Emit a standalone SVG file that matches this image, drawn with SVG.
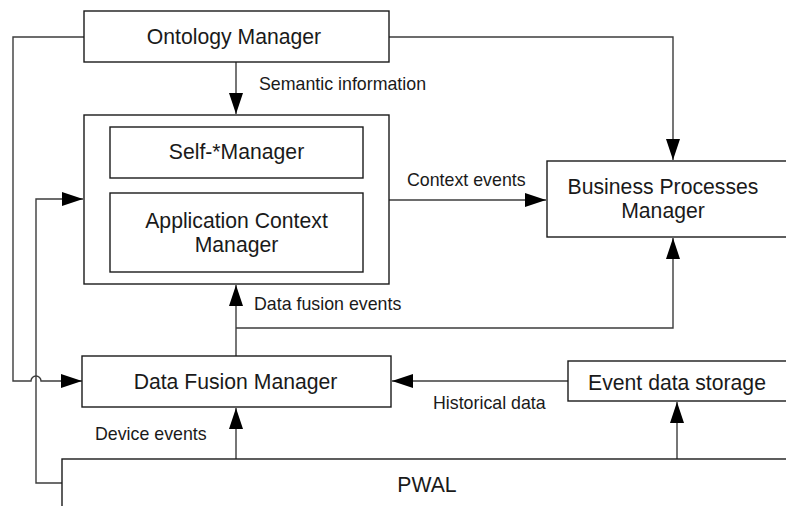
<svg xmlns="http://www.w3.org/2000/svg" width="786" height="506" viewBox="0 0 786 506">
  <style>
    .box { fill: #ffffff; stroke: #1a1a1a; stroke-width: 1.4; }
    .conn { fill: none; stroke: #3c3c3c; stroke-width: 1.4; }
    .name { font-family: "Liberation Sans", Arial, sans-serif; font-size: 21.2px; fill: #1a1a1a; text-anchor: middle; }
    .lbl { font-family: "Liberation Sans", Arial, sans-serif; font-size: 17.8px; fill: #1a1a1a; }
  </style>
  <defs>
    <marker id="arrow" markerUnits="userSpaceOnUse" markerWidth="21" markerHeight="14" refX="21" refY="7" orient="auto">
      <path d="M0,0 L21,7 L0,14 z" fill="#000"/>
    </marker>
  </defs>
  <rect width="786" height="506" fill="#ffffff"/>

  <!-- connectors -->
  <g id="connectors">
    <path class="conn" d="M236,62 V114" marker-end="url(#arrow)"/>
    <path class="conn" d="M389,37 H673 V160" marker-end="url(#arrow)"/>
    <path class="conn" d="M84,37 H13 V381 H31 A5,5 0 0 1 41,381 H82" marker-end="url(#arrow)"/>
    <path class="conn" d="M62,483 H36 V199 H83" marker-end="url(#arrow)"/>
    <path class="conn" d="M389,200 H546" marker-end="url(#arrow)"/>
    <path class="conn" d="M236,356 V285" marker-end="url(#arrow)"/>
    <path class="conn" d="M236,328 H673 V238" marker-end="url(#arrow)"/>
    <path class="conn" d="M236,459 V408" marker-end="url(#arrow)"/>
    <path class="conn" d="M677,459 V402" marker-end="url(#arrow)"/>
    <path class="conn" d="M568,381 H392" marker-end="url(#arrow)"/>
    <text class="lbl" x="259" y="90">Semantic information</text>
    <text class="lbl" x="407" y="186">Context events</text>
    <text class="lbl" x="254" y="310">Data fusion events</text>
    <text class="lbl" x="433" y="409">Historical data</text>
    <text class="lbl" x="95" y="440">Device events</text>
  </g>

  <g id="ontology-manager">
    <rect class="box" x="84" y="11" width="305" height="51"/>
    <text class="name" x="234" y="44">Ontology Manager</text>
  </g>

  <g id="context-manager">
    <rect class="box" x="84" y="115" width="305" height="169"/>
  </g>

  <g id="self-manager">
    <rect class="box" x="110" y="127" width="253" height="51"/>
    <text class="name" x="236.5" y="159">Self-*Manager</text>
  </g>

  <g id="application-context-manager">
    <rect class="box" x="110" y="193" width="253" height="79"/>
    <text class="name" x="236.5" y="228">Application Context</text>
    <text class="name" x="236.5" y="252">Manager</text>
  </g>

  <g id="business-processes-manager">
    <rect class="box" x="547" y="161" width="250" height="76"/>
    <text class="name" x="663" y="194">Business Processes</text>
    <text class="name" x="663" y="218">Manager</text>
  </g>

  <g id="data-fusion-manager">
    <rect class="box" x="82" y="356" width="309" height="51"/>
    <text class="name" x="235.5" y="389">Data Fusion Manager</text>
  </g>

  <g id="event-data-storage">
    <rect class="box" x="568" y="361" width="230" height="40"/>
    <text class="name" x="677" y="390">Event data storage</text>
  </g>

  <g id="pwal">
    <rect class="box" x="62" y="459" width="740" height="60"/>
    <text class="name" x="427" y="492">PWAL</text>
  </g>
</svg>
